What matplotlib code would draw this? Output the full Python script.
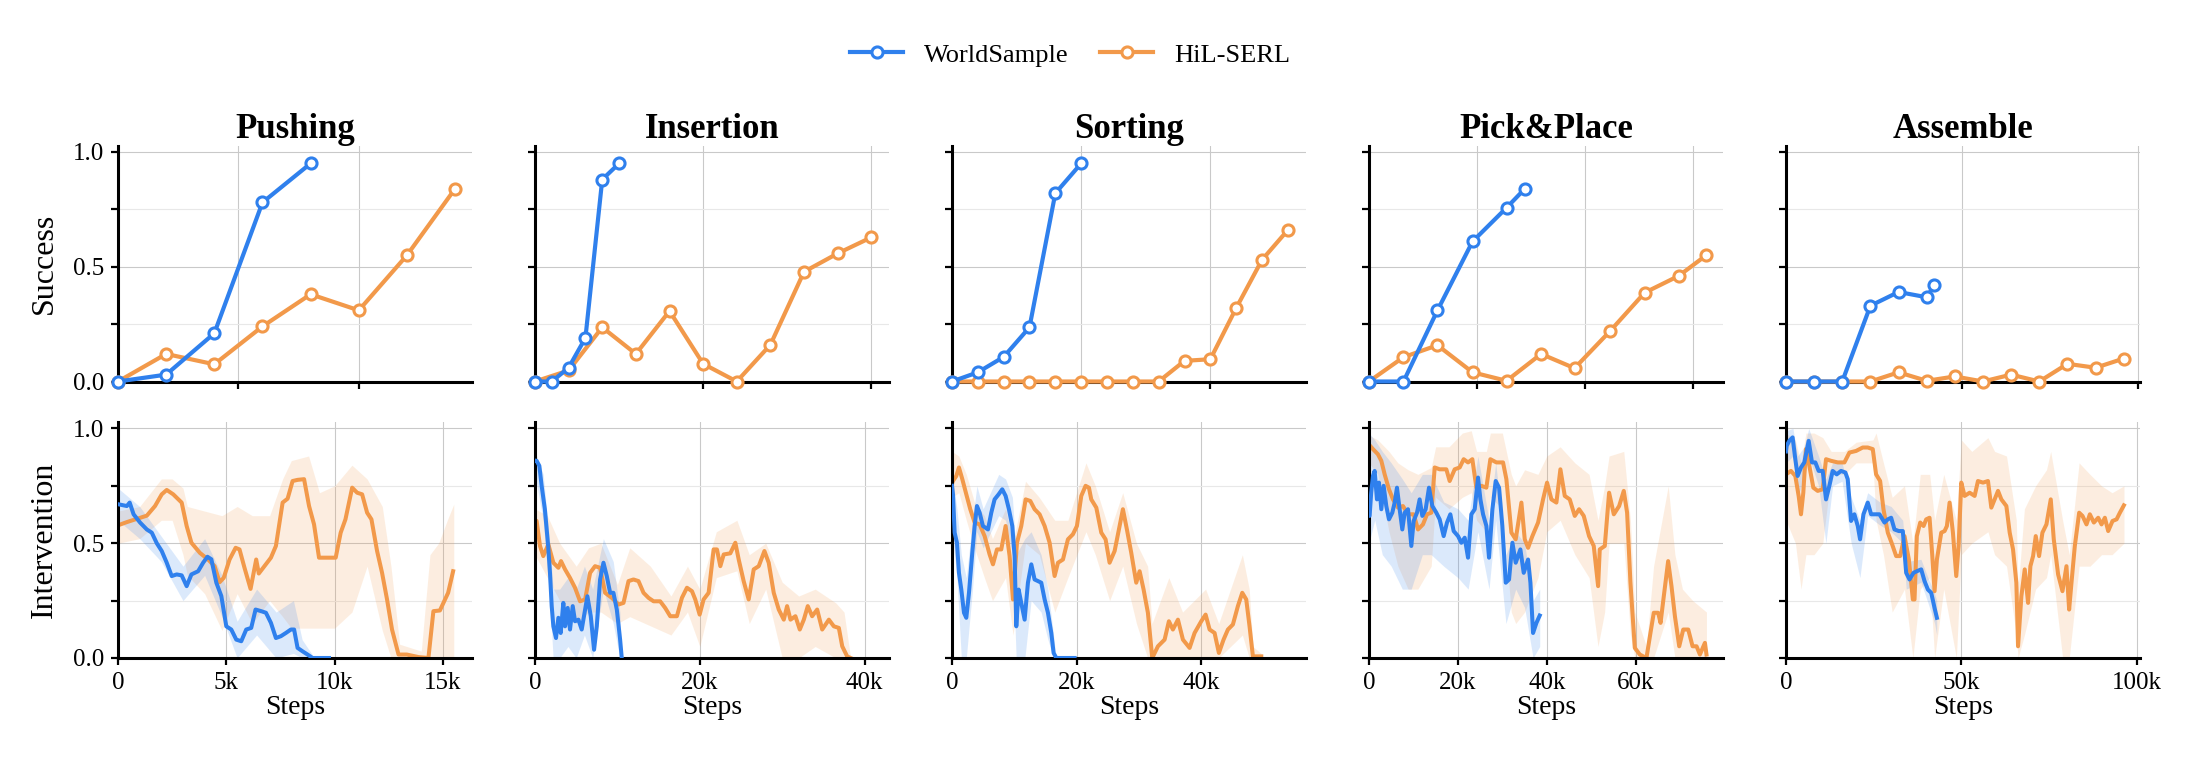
import matplotlib.pyplot as plt
import numpy as np
from matplotlib.ticker import MultipleLocator, FuncFormatter

plt.rcParams['font.family'] = ['Liberation Serif', 'DejaVu Serif']

BLUE = '#2f80ed'
ORANGE = '#f2994a'

tasks = ['Pushing', 'Insertion', 'Sorting', 'Pick&Place', 'Assemble']
methods = ['WorldSample', 'HiL-SERL']

# ---- success evaluations: (steps in k, success rate) ----
push_ws_succ = [(0, 0.0), (2, 0.03), (4, 0.21), (6, 0.78), (8, 0.95)]
push_hil_succ = [(0, 0.0), (2, 0.12), (4, 0.075), (6, 0.24), (8, 0.38), (10, 0.31), (12, 0.55), (14, 0.84)]
ins_ws_succ = [(0, 0.0), (2, 0.0), (4, 0.06), (6, 0.19), (8, 0.88), (10, 0.95)]
ins_hil_succ = [(0, 0.0), (4, 0.048), (8, 0.236), (12, 0.12), (16, 0.307), (20, 0.077), (24, 0.0),
                (28, 0.16), (32, 0.478), (36, 0.558), (40, 0.628)]
sort_ws_succ = [(0, 0.0), (4, 0.04), (8, 0.107), (12, 0.236), (16, 0.82), (20, 0.95)]
sort_hil_succ = [(0, 0.0), (4, 0.0), (8, 0.0), (12, 0.0), (16, 0.0), (20, 0.0), (24, 0.0), (28, 0.0),
                 (32, 0.0), (36, 0.09), (40, 0.097), (44, 0.32), (48, 0.53), (52, 0.66)]
pp_ws_succ = [(0, 0.0), (6.4, 0.0), (12.7, 0.31), (19.2, 0.61), (25.5, 0.757), (28.9, 0.84)]
pp_hil_succ = [(0, 0.0), (6.4, 0.106), (12.7, 0.158), (19.2, 0.04), (25.5, 0.003), (31.9, 0.12),
               (38.1, 0.058), (44.7, 0.22), (51.1, 0.387), (57.4, 0.46), (62.5, 0.55)]
asm_ws_succ = [(0, 0.0), (8, 0.0), (16, 0.0), (24, 0.33), (32, 0.39), (40, 0.367), (42.2, 0.42)]
asm_hil_succ = [(0, 0.0), (8, 0.0), (16, 0.0), (24, 0.0), (32, 0.04), (40, 0.003), (48, 0.022),
                (56, 0.0), (64, 0.03), (72, 0.0), (80, 0.077), (88, 0.06), (96, 0.10)]

# ---- intervention rate: (steps in k, mean) ----
push_ws_int = [(0, 0.67), (0.41, 0.662), (0.54, 0.677), (0.72, 0.626), (1.02, 0.59), (1.33, 0.56),
               (1.56, 0.546), (1.79, 0.50), (2.02, 0.466), (2.25, 0.415), (2.48, 0.357), (2.71, 0.364),
               (2.94, 0.36), (3.17, 0.313), (3.39, 0.364), (3.70, 0.378), (3.93, 0.415), (4.13, 0.441),
               (4.31, 0.43), (4.54, 0.328), (4.77, 0.27), (5.0, 0.138), (5.23, 0.124), (5.46, 0.08),
               (5.69, 0.073), (5.92, 0.124), (6.15, 0.131), (6.35, 0.211), (6.61, 0.204), (6.83, 0.197),
               (7.06, 0.153), (7.29, 0.087), (7.52, 0.095), (7.75, 0.109), (7.98, 0.124), (8.13, 0.124),
               (8.29, 0.044), (8.52, 0.029), (8.75, 0.015), (8.98, 0.0), (9.74, 0.0)]
push_hil_int = [(0, 0.578), (0.41, 0.592), (0.8, 0.604), (1.33, 0.62), (1.71, 0.662), (2.02, 0.713),
                (2.25, 0.732), (2.55, 0.713), (2.94, 0.677), (3.17, 0.575), (3.39, 0.502), (3.78, 0.458),
                (4.16, 0.429), (4.46, 0.40), (4.69, 0.33), (4.88, 0.349), (5.15, 0.429), (5.43, 0.48),
                (5.61, 0.473), (5.84, 0.393), (6.12, 0.301), (6.38, 0.429), (6.50, 0.368), (6.76, 0.40),
                (7.06, 0.437), (7.29, 0.488), (7.60, 0.677), (7.83, 0.694), (8.06, 0.771), (8.29, 0.776),
                (8.59, 0.779), (8.82, 0.662), (9.05, 0.582), (9.28, 0.437), (10.05, 0.437), (10.28, 0.546),
                (10.5, 0.604), (10.81, 0.742), (11.04, 0.72), (11.27, 0.713), (11.5, 0.633), (11.7, 0.604),
                (11.96, 0.466), (12.19, 0.371), (12.42, 0.255), (12.65, 0.124), (12.95, 0.015),
                (13.33, 0.015), (13.87, 0.004), (14.33, 0.0), (14.56, 0.204), (14.86, 0.207),
                (15.24, 0.284), (15.47, 0.378)]
ins_ws_int = [(0, 0.86), (0.2, 0.859), (0.53, 0.837), (0.81, 0.75), (1.2, 0.648), (1.6, 0.488), (1.82, 0.371),
              (2.03, 0.226), (2.23, 0.138), (2.55, 0.087), (2.84, 0.175), (3.12, 0.109), (3.44, 0.24),
              (3.65, 0.138), (3.97, 0.218), (4.25, 0.124), (4.58, 0.226), (4.86, 0.16), (5.27, 0.167),
              (5.67, 0.124), (6.36, 0.269), (6.77, 0.182), (7.17, 0.036), (7.5, 0.138), (7.9, 0.342),
              (8.31, 0.415), (8.71, 0.357), (9.12, 0.284), (9.52, 0.284), (9.93, 0.211), (10.33, 0.08),
              (10.53, 0.0)]
ins_hil_int = [(0, 0.6), (0.2, 0.597), (0.61, 0.488), (1.01, 0.444), (1.62, 0.495), (2.23, 0.415),
               (2.84, 0.393), (3.16, 0.422), (3.65, 0.386), (4.25, 0.349), (4.86, 0.306), (5.47, 0.247),
               (6.08, 0.255), (6.69, 0.371), (7.29, 0.40), (7.9, 0.393), (8.51, 0.284), (9.32, 0.262),
               (10.13, 0.233), (10.74, 0.24), (11.35, 0.335), (11.95, 0.342), (12.56, 0.335),
               (13.17, 0.284), (13.78, 0.262), (14.39, 0.247), (15.19, 0.247), (15.8, 0.218),
               (16.41, 0.182), (17.22, 0.182), (17.83, 0.262), (18.44, 0.306), (19.05, 0.291),
               (19.45, 0.255), (19.98, 0.189), (20.46, 0.255), (21.07, 0.284), (21.68, 0.473),
               (22.08, 0.473), (22.49, 0.40), (22.9, 0.451), (23.7, 0.456), (24.31, 0.502),
               (24.72, 0.429), (25.32, 0.335), (25.93, 0.255), (26.54, 0.386), (27.15, 0.40),
               (27.84, 0.466), (28.36, 0.415), (28.97, 0.284), (29.58, 0.211), (30.19, 0.167),
               (30.59, 0.226), (31.0, 0.167), (31.6, 0.182), (32.13, 0.124), (32.62, 0.167),
               (33.1, 0.226), (33.63, 0.182), (34.24, 0.211), (34.85, 0.124), (35.66, 0.167),
               (36.26, 0.138), (36.87, 0.131), (37.28, 0.051), (37.88, 0.007), (38.3, 0.0)]
sort_ws_int = [(0, 0.75), (0.16, 0.713), (0.43, 0.546), (0.8, 0.502), (1.12, 0.371), (1.5, 0.298),
               (1.93, 0.197), (2.3, 0.175), (2.73, 0.284), (3.26, 0.458), (3.64, 0.575), (4.01, 0.662),
               (4.44, 0.633), (4.97, 0.575), (5.78, 0.56), (6.31, 0.633), (6.84, 0.691), (7.49, 0.713),
               (8.07, 0.735), (8.61, 0.706), (9.14, 0.648), (9.68, 0.575), (10.05, 0.444), (10.32, 0.138),
               (10.7, 0.298), (11.12, 0.24), (11.66, 0.167), (12.19, 0.328), (12.73, 0.408),
               (13.26, 0.342), (13.8, 0.335), (14.33, 0.328), (14.87, 0.255), (15.4, 0.197),
               (15.94, 0.109), (16.31, 0.022), (16.74, 0.0), (19.68, 0.0)]
sort_hil_int = [(0, 0.76), (0.16, 0.771), (0.7, 0.793), (1.12, 0.83), (1.66, 0.779), (2.3, 0.713),
                (2.94, 0.648), (3.64, 0.59), (4.44, 0.582), (5.24, 0.531), (6.04, 0.451), (6.58, 0.408),
                (7.22, 0.473), (7.91, 0.473), (8.61, 0.575), (9.25, 0.444), (9.79, 0.255), (10.43, 0.502),
                (11.12, 0.575), (11.82, 0.691), (12.57, 0.684), (13.26, 0.648), (14.06, 0.626),
                (14.87, 0.575), (15.67, 0.502), (16.47, 0.357), (17.01, 0.415), (17.81, 0.429),
                (18.61, 0.517), (19.41, 0.539), (20.05, 0.575), (20.75, 0.706), (21.44, 0.75),
                (21.98, 0.742), (22.35, 0.691), (23.16, 0.655), (23.96, 0.546), (24.65, 0.517),
                (25.29, 0.415), (26.1, 0.466), (26.79, 0.56), (27.43, 0.648), (28.07, 0.56),
                (28.77, 0.458), (29.57, 0.328), (30.11, 0.378), (30.75, 0.298), (31.44, 0.197),
                (32.14, 0.0), (33.05, 0.051), (34.12, 0.08), (34.81, 0.16), (35.45, 0.124),
                (36.26, 0.167), (37.06, 0.08), (38.13, 0.044), (38.93, 0.109), (40.0, 0.16),
                (40.7, 0.189), (41.34, 0.124), (42.14, 0.109), (42.83, 0.022), (43.58, 0.08),
                (44.28, 0.124), (45.08, 0.146), (45.88, 0.226), (46.58, 0.284), (47.22, 0.255),
                (47.75, 0.138), (48.29, 0.007), (49.63, 0.007)]
pp_ws_int = [(0, 0.62), (0.15, 0.619), (0.5, 0.72), (0.9, 0.793), (1.28, 0.815), (1.8, 0.691), (2.25, 0.764),
             (2.78, 0.648), (3.3, 0.75), (3.9, 0.662), (4.5, 0.604), (5.25, 0.633), (5.78, 0.677),
             (6.3, 0.742), (6.9, 0.648), (7.5, 0.56), (8.03, 0.633), (8.78, 0.648), (9.53, 0.488),
             (10.05, 0.597), (10.8, 0.633), (11.4, 0.691), (12.0, 0.619), (12.75, 0.648), (13.5, 0.742),
             (14.25, 0.662), (15.15, 0.633), (15.9, 0.604), (16.8, 0.531), (17.55, 0.59), (18.3, 0.626),
             (19.05, 0.553), (20.03, 0.531), (20.78, 0.502), (21.53, 0.524), (22.28, 0.437),
             (23.03, 0.626), (23.78, 0.648), (24.53, 0.786), (25.06, 0.691), (25.66, 0.626),
             (26.41, 0.575), (27.0, 0.437), (27.76, 0.648), (28.5, 0.771), (29.26, 0.742), (30.0, 0.575),
             (30.76, 0.328), (31.5, 0.342), (32.26, 0.502), (33.0, 0.415), (34.05, 0.473), (34.8, 0.371),
             (35.78, 0.429), (36.31, 0.328), (36.9, 0.109), (37.66, 0.153), (38.4, 0.185)]
pp_hil_int = [(0, 0.93), (0.9, 0.91), (2.0, 0.888), (2.78, 0.859), (3.53, 0.80), (4.5, 0.735), (5.4, 0.691),
              (6.53, 0.655), (7.65, 0.662), (8.78, 0.626), (10.05, 0.626), (11.03, 0.56), (12.15, 0.582),
              (13.05, 0.626), (14.03, 0.633), (14.78, 0.83), (15.9, 0.822), (17.4, 0.822), (18.15, 0.771),
              (19.28, 0.822), (20.4, 0.83), (21.3, 0.866), (22.28, 0.852), (23.25, 0.866), (24.15, 0.742),
              (25.28, 0.75), (26.4, 0.742), (27.3, 0.866), (28.65, 0.852), (30.15, 0.852), (30.9, 0.779),
              (32.03, 0.546), (33.0, 0.517), (34.28, 0.677), (35.03, 0.517), (35.78, 0.48), (36.75, 0.531),
              (38.03, 0.59), (39.15, 0.691), (40.05, 0.764), (41.03, 0.691), (42.15, 0.677), (43.05, 0.822),
              (44.03, 0.706), (45.15, 0.691), (46.28, 0.619), (47.25, 0.648), (48.3, 0.619), (49.5, 0.531),
              (50.55, 0.488), (51.53, 0.313), (51.9, 0.473), (53.03, 0.488), (54.0, 0.72), (55.06, 0.626),
              (56.26, 0.662), (57.3, 0.728), (58.05, 0.633), (58.8, 0.328), (59.78, 0.044), (60.9, 0.015),
              (62.4, 0.0), (63.3, 0.109), (64.05, 0.197), (65.03, 0.197), (65.57, 0.153), (66.3, 0.269),
              (67.28, 0.422), (68.03, 0.313), (68.8, 0.182), (69.77, 0.051), (70.67, 0.124), (71.8, 0.124),
              (72.77, 0.051), (73.67, 0.051), (74.42, 0.015), (75.55, 0.066), (75.9, 0.015)]
asm_ws_int = [(0, 0.9), (0.2, 0.924), (0.95, 0.946), (1.9, 0.961), (2.67, 0.866), (3.33, 0.793), (4.29, 0.83),
              (5.24, 0.852), (6.48, 0.946), (7.43, 0.852), (8.38, 0.852), (9.33, 0.815), (10.48, 0.815),
              (11.43, 0.691), (12.38, 0.75), (13.33, 0.815), (14.48, 0.80), (15.71, 0.815), (16.95, 0.808),
              (17.62, 0.779), (18.57, 0.597), (19.52, 0.626), (20.48, 0.575), (21.14, 0.517), (22.1, 0.626),
              (23.33, 0.677), (24.29, 0.626), (25.52, 0.626), (26.67, 0.626), (28.1, 0.59), (29.05, 0.604),
              (30.0, 0.611), (30.95, 0.56), (32.19, 0.553), (33.33, 0.553), (34.29, 0.371), (35.24, 0.342),
              (36.38, 0.371), (37.33, 0.378), (38.57, 0.386), (39.52, 0.335), (40.48, 0.298), (41.43, 0.284),
              (42.38, 0.218), (43.05, 0.175)]
asm_hil_int = [(0, 0.8), (1.43, 0.815), (2.67, 0.793), (3.62, 0.706), (4.29, 0.626), (4.95, 0.72), (5.71, 0.91),
               (6.67, 0.837), (7.81, 0.742), (9.05, 0.728), (10.48, 0.735), (11.43, 0.866), (12.86, 0.859),
               (14.76, 0.852), (16.67, 0.852), (18.1, 0.895), (20.0, 0.902), (21.9, 0.917), (23.33, 0.917),
               (24.76, 0.91), (25.71, 0.80), (26.86, 0.771), (27.81, 0.648), (29.05, 0.546), (30.29, 0.495),
               (31.43, 0.444), (32.57, 0.444), (33.81, 0.531), (35.05, 0.429), (36.19, 0.255), (36.67, 0.255),
               (37.33, 0.531), (38.29, 0.59), (39.24, 0.575), (40.0, 0.604), (40.95, 0.611), (41.71, 0.451),
               (42.38, 0.291), (43.05, 0.429), (44.29, 0.546), (45.24, 0.553), (45.9, 0.575), (46.67, 0.677),
               (47.62, 0.546), (48.57, 0.357), (49.24, 0.488), (50.0, 0.764), (50.95, 0.706), (52.38, 0.72),
               (53.81, 0.706), (54.76, 0.771), (56.19, 0.764), (57.62, 0.771), (58.57, 0.655), (59.52, 0.691),
               (60.48, 0.728), (61.43, 0.691), (62.86, 0.662), (63.81, 0.546), (64.76, 0.473), (65.71, 0.328),
               (66.19, 0.051), (67.14, 0.269), (68.1, 0.386), (69.05, 0.24), (69.71, 0.40), (70.48, 0.444),
               (71.24, 0.531), (72.19, 0.444), (73.14, 0.546), (74.29, 0.582), (75.52, 0.691), (76.38, 0.517),
               (77.62, 0.364), (78.86, 0.291), (80.0, 0.40), (80.76, 0.211), (81.43, 0.328), (82.38, 0.488),
               (83.62, 0.633), (84.57, 0.619), (85.71, 0.582), (86.67, 0.626), (87.81, 0.59), (89.05, 0.611),
               (90.0, 0.582), (90.95, 0.611), (91.9, 0.553), (93.14, 0.597), (94.29, 0.604), (95.24, 0.633),
               (96.38, 0.665)]

# ---- intervention spread bands: (steps in k, low, high) ----
push_ws_band = [(0, 0.6, 0.74), (1, 0.52, 0.66), (2, 0.42, 0.53), (3, 0.25, 0.4), (4, 0.36, 0.52),
                (4.8, 0.18, 0.36), (5.5, 0.0, 0.16), (6.4, 0.1, 0.3), (7.3, 0.0, 0.2), (8.1, 0.02, 0.25),
                (8.5, 0.0, 0.08), (9.0, 0.0, 0.01)]
push_hil_band = [(0, 0.50, 0.64), (1.0, 0.52, 0.66), (2.0, 0.6, 0.78), (2.5, 0.6, 0.78), (3.0, 0.45, 0.74),
                 (3.2, 0.36, 0.66), (4.0, 0.28, 0.64), (4.8, 0.12, 0.62), (5.5, 0.28, 0.66), (6.2, 0.15, 0.62),
                 (7.0, 0.25, 0.62), (7.6, 0.18, 0.78), (8.0, 0.13, 0.86), (8.8, 0.13, 0.88), (9.3, 0.13, 0.72),
                 (10.0, 0.13, 0.75), (10.8, 0.2, 0.84), (11.5, 0.4, 0.78), (12.2, 0.12, 0.66), (12.6, 0.0, 0.40),
                 (13.0, 0.0, 0.06), (14.0, 0.0, 0.03), (14.4, 0.0, 0.45), (14.8, 0.0, 0.5), (15.2, 0.0, 0.6),
                 (15.5, 0.0, 0.67)]
ins_ws_band = [(0, 0.8, 0.9), (1.0, 0.6, 0.8), (1.8, 0.25, 0.5), (2.2, 0.0, 0.3), (3, 0.0, 0.3), (4, 0.05, 0.35),
               (5, 0.0, 0.3), (6, 0.1, 0.4), (7, 0.0, 0.3), (8.3, 0.3, 0.52), (9.5, 0.15, 0.42), (10.3, 0.0, 0.2),
               (10.5, 0.0, 0.02)]
ins_hil_band = [(0, 0.45, 0.65), (1.5, 0.35, 0.62), (3, 0.25, 0.5), (5, 0.15, 0.4), (6.5, 0.2, 0.48),
                (8, 0.2, 0.5), (10, 0.15, 0.32), (11.5, 0.18, 0.48), (14, 0.14, 0.40), (16.5, 0.1, 0.27),
                (18.5, 0.2, 0.4), (20, 0.05, 0.3), (22, 0.35, 0.55), (24.5, 0.38, 0.6), (26, 0.15, 0.45),
                (28, 0.3, 0.5), (30, 0.0, 0.33), (32, 0.0, 0.27), (34, 0.05, 0.3), (36.5, 0.0, 0.24),
                (37.5, 0.0, 0.2), (38.3, 0.0, 0.0)]
sort_ws_band = [(0, 0.55, 0.8), (0.8, 0.35, 0.65), (1.5, 0.0, 0.45), (2.3, 0.0, 0.35), (3.3, 0.3, 0.6),
                (4.0, 0.55, 0.75), (5, 0.48, 0.65), (7.5, 0.62, 0.8), (8.6, 0.6, 0.78), (9.7, 0.45, 0.7),
                (10.3, 0.0, 0.45), (11.7, 0.0, 0.52), (12.7, 0.25, 0.55), (14.3, 0.2, 0.45), (15.4, 0.08, 0.3),
                (16.3, 0.0, 0.1), (16.7, 0.0, 0.0)]
sort_hil_band = [(0, 0.7, 0.9), (1.1, 0.72, 0.88), (2.3, 0.6, 0.8), (3.6, 0.48, 0.68), (5.2, 0.35, 0.62),
                 (6.5, 0.25, 0.52), (8.6, 0.35, 0.65), (9.8, 0.1, 0.5), (11.8, 0.5, 0.77), (14, 0.45, 0.7),
                 (16.5, 0.2, 0.6), (18.6, 0.35, 0.6), (21.5, 0.55, 0.85), (23, 0.45, 0.75), (25.3, 0.25, 0.55),
                 (27.4, 0.4, 0.72), (29.6, 0.15, 0.5), (31.4, 0.0, 0.4), (32.1, 0.0, 0.15), (34.8, 0.0, 0.35),
                 (37, 0.0, 0.2), (40.7, 0.0, 0.3), (42.8, 0.0, 0.15), (46.6, 0.1, 0.45), (47.7, 0.0, 0.3),
                 (48.3, 0.0, 0.05), (49.6, 0.0, 0.02)]
pp_ws_band = [(0, 0.5, 0.98), (1.3, 0.6, 0.95), (3, 0.45, 0.9), (5, 0.4, 0.85), (7.5, 0.3, 0.78), (9.5, 0.3, 0.72),
              (12, 0.45, 0.8), (14, 0.45, 0.8), (16.8, 0.4, 0.68), (20, 0.35, 0.65), (22.3, 0.3, 0.6),
              (24.5, 0.55, 0.88), (27, 0.3, 0.6), (28.5, 0.6, 0.85), (30.8, 0.15, 0.45), (33, 0.3, 0.55),
              (35, 0.22, 0.5), (36.9, 0.0, 0.25), (38.4, 0.05, 0.3)]
pp_hil_band = [(0, 0.85, 0.97), (2, 0.8, 0.95), (4.5, 0.55, 0.9), (6.5, 0.4, 0.85), (8.8, 0.3, 0.82),
               (11, 0.3, 0.8), (14, 0.4, 0.83), (15, 0.7, 0.92), (18, 0.65, 0.92), (21, 0.7, 0.98),
               (23, 0.72, 0.99), (24.2, 0.6, 0.9), (26.4, 0.55, 0.9), (27.3, 0.7, 0.98), (30, 0.65, 0.98),
               (32, 0.2, 0.8), (33, 0.15, 0.75), (35, 0.2, 0.82), (38, 0.35, 0.8), (40, 0.55, 0.88),
               (43, 0.6, 0.92), (46.3, 0.45, 0.85), (49.5, 0.35, 0.8), (51.5, 0.05, 0.6), (53, 0.2, 0.75),
               (54, 0.5, 0.88), (57.3, 0.5, 0.9), (58.8, 0.1, 0.6), (59.8, 0.0, 0.2), (62.4, 0.0, 0.05),
               (64, 0.0, 0.4), (67.3, 0.2, 0.75), (68.8, 0.0, 0.45), (70.5, 0.0, 0.3), (72.8, 0.0, 0.25),
               (75.9, 0.0, 0.2)]
asm_ws_band = [(0, 0.85, 0.99), (2, 0.88, 1.0), (3.3, 0.7, 0.88), (5.2, 0.78, 0.92), (6.5, 0.88, 1.0),
               (9.3, 0.75, 0.88), (11.4, 0.5, 0.78), (13.3, 0.75, 0.85), (16, 0.77, 0.85), (18.6, 0.5, 0.7),
               (21.1, 0.35, 0.6), (23.3, 0.62, 0.72), (26.7, 0.58, 0.68), (30, 0.55, 0.66), (33.3, 0.5, 0.6),
               (34.3, 0.3, 0.42), (38.5, 0.33, 0.43), (40.5, 0.24, 0.35), (42.4, 0.15, 0.28), (43, 0.1, 0.25)]
asm_hil_band = [(0, 0.6, 0.98), (2.7, 0.5, 0.95), (4.3, 0.3, 0.85), (5.7, 0.45, 0.98), (8, 0.45, 0.98),
                (10.5, 0.5, 0.96), (12.9, 0.8, 0.9), (16.7, 0.8, 0.9), (20, 0.85, 0.94), (24.8, 0.85, 0.95),
                (25.7, 0.6, 0.98), (27.8, 0.45, 0.85), (30.3, 0.2, 0.7), (33.8, 0.3, 0.75), (36.2, 0.0, 0.5),
                (38.3, 0.3, 0.8), (41, 0.35, 0.8), (42.4, 0.0, 0.6), (45, 0.3, 0.8), (48.6, 0.0, 0.6),
                (50, 0.45, 0.95), (53, 0.5, 0.9), (57.6, 0.55, 0.96), (59.5, 0.45, 0.9), (62.9, 0.4, 0.88),
                (65.7, 0.1, 0.6), (66.2, 0.0, 0.3), (68, 0.1, 0.65), (71.2, 0.3, 0.75), (74.3, 0.35, 0.82),
                (75.5, 0.45, 0.9), (78.9, 0.0, 0.6), (80.8, 0.0, 0.45), (83.6, 0.4, 0.85), (86.7, 0.4, 0.8),
                (90, 0.45, 0.75), (93, 0.45, 0.72), (96.4, 0.5, 0.75)]

succ_data = [(push_ws_succ, push_hil_succ), (ins_ws_succ, ins_hil_succ), (sort_ws_succ, sort_hil_succ),
             (pp_ws_succ, pp_hil_succ), (asm_ws_succ, asm_hil_succ)]
int_data = [(push_ws_int, push_hil_int), (ins_ws_int, ins_hil_int), (sort_ws_int, sort_hil_int),
            (pp_ws_int, pp_hil_int), (asm_ws_int, asm_hil_int)]
band_data = [(push_ws_band, push_hil_band), (ins_ws_band, ins_hil_band), (sort_ws_band, sort_hil_band),
             (pp_ws_band, pp_hil_band), (asm_ws_band, asm_hil_band)]

# axis extents (k steps) and tick spacing
top_xmax = [14.7, 42.1, 54.8, 65.6, 100.6]
bot_xmax = [16.34, 42.95, 56.8, 79.6, 100.95]
xstep = [5, 20, 20, 20, 50]

colors = [BLUE, ORANGE]


def kfmt(v, pos):
    return '0' if v == 0 else f'{v:g}k'


def style_axis(ax, step):
    for side in ['top', 'right']:
        ax.spines[side].set_visible(False)
    for side in ['left', 'bottom']:
        ax.spines[side].set_linewidth(2.2)
    ax.set_ylim(0, 1.026)
    ax.yaxis.set_major_locator(MultipleLocator(0.5))
    ax.yaxis.set_minor_locator(MultipleLocator(0.25))
    ax.xaxis.set_major_locator(MultipleLocator(step))
    ax.xaxis.set_major_formatter(FuncFormatter(kfmt))
    ax.tick_params(which='both', direction='out', length=5, width=1.6, labelsize=18, pad=5)
    ax.grid(which='major', color='#c9c9c9', lw=0.8)
    ax.grid(which='minor', axis='y', color='#e8e8e8', lw=0.8)
    ax.set_axisbelow(True)


fig, axes = plt.subplots(2, 5, figsize=(21.93, 7.62), dpi=100, sharey=True)
fig.subplots_adjust(left=0.0538, right=0.9758, top=0.8084, bottom=0.1365, wspace=0.178, hspace=0.174)

for i, task in enumerate(tasks):
    ax = axes[0, i]
    style_axis(ax, xstep[i])
    for j in range(2):
        arr = np.array(succ_data[i][j])
        ax.plot(arr[:, 0], arr[:, 1], color=colors[j], lw=3.0, marker='o', ms=8, mfc='white',
                mew=2.2, mec=colors[j], clip_on=False, zorder=4 - j, label=methods[j])
    ax.set_xlim(0, top_xmax[i])
    ax.tick_params(labelbottom=False)
    ax.set_title(task, fontsize=25, fontweight='bold', pad=5)

    ax = axes[1, i]
    style_axis(ax, xstep[i])
    for j in [1, 0]:
        band = np.array(band_data[i][j])
        ax.fill_between(band[:, 0], band[:, 1], band[:, 2], color=colors[j], alpha=0.17, lw=0,
                        zorder=1)
    for j in [1, 0]:
        arr = np.array(int_data[i][j])
        ax.plot(arr[:, 0], arr[:, 1], color=colors[j], lw=2.9, zorder=3 - j)
    ax.set_xlim(0, bot_xmax[i])
    ax.set_xlabel('Steps', fontsize=20, labelpad=1)

axes[0, 0].set_ylabel('Success', fontsize=23, labelpad=10)
axes[1, 0].set_ylabel('Intervention', fontsize=23, labelpad=10)

handles, labels = axes[0, 0].get_legend_handles_labels()
fig.legend(handles, labels, loc='center', bbox_to_anchor=(0.488, 0.928), ncol=2, frameon=False,
           fontsize=19, handlelength=2.0, handletextpad=0.8, columnspacing=1.2)

fig.savefig('out.png', dpi=100)
